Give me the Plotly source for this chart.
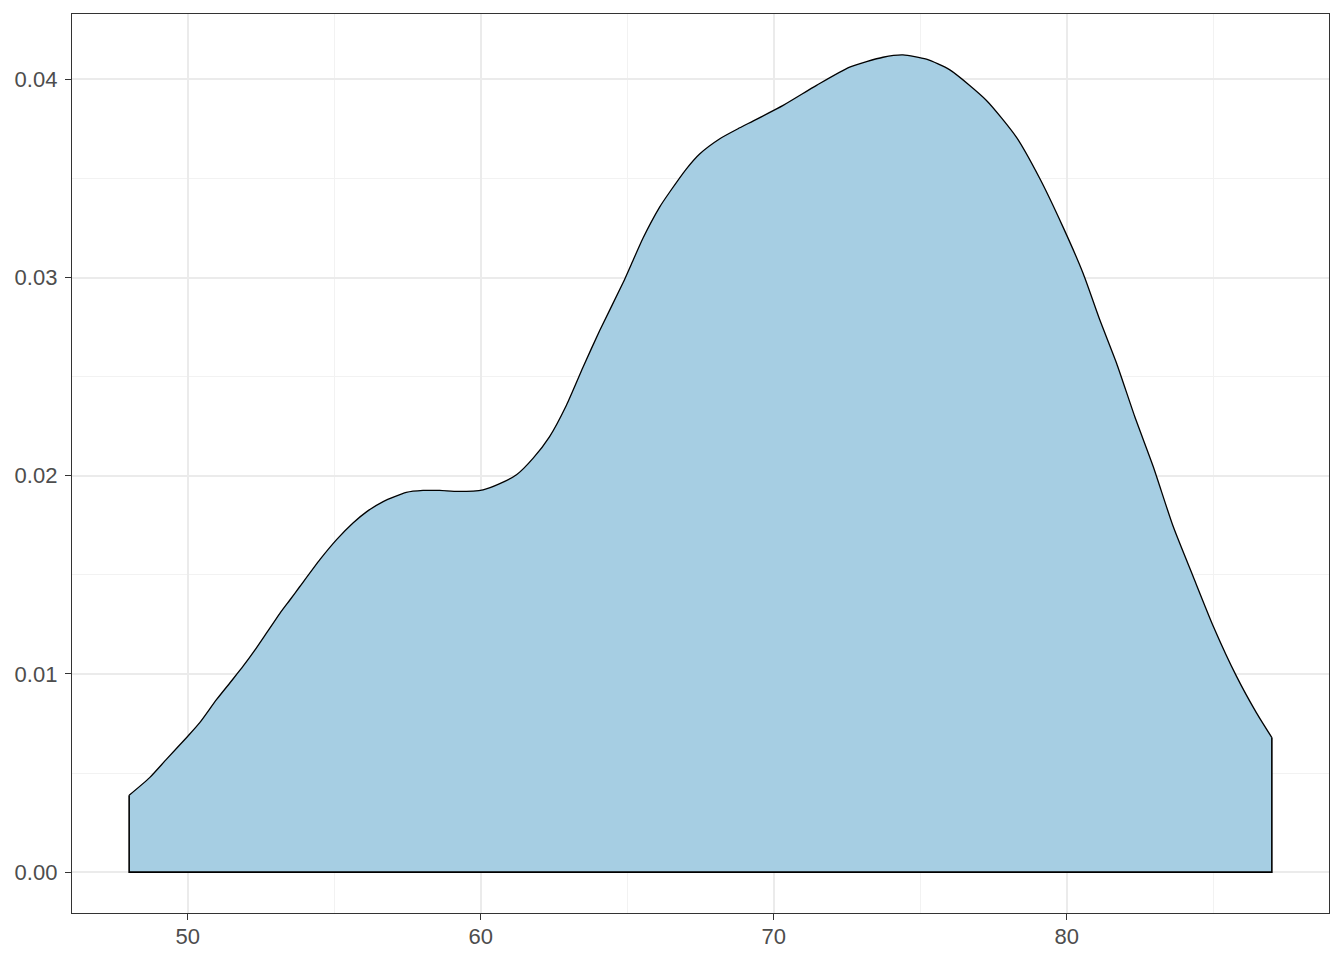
import plotly.graph_objects as go

# density curve (x, density)
x_vals = [48.0, 48.70, 49.27, 50.01, 50.41, 50.98, 51.45, 51.89, 52.29, 52.69, 53.14,
          53.48, 53.82, 54.51, 55.08, 55.64, 56.10, 56.67, 57.46, 58.03, 58.60, 59.23,
          60.08, 60.65, 61.22, 61.79, 62.35, 62.92, 63.49, 64.06, 64.86, 65.20,
          65.54, 66.11, 66.45, 67.02, 67.47, 68.16, 68.84, 69.29, 70.32, 71.46, 72.59,
          73.73, 74.41, 75.21, 76.01, 77.26, 78.28, 79.08, 79.87, 80.56, 81.13, 81.70,
          82.32, 82.95, 83.63, 84.31, 85.00, 85.79, 86.47, 87.0]
density = [0.00388, 0.00477, 0.00569, 0.00687, 0.00754, 0.00870, 0.00957, 0.01039, 0.01120,
           0.01207, 0.01305, 0.01372, 0.01440, 0.01577, 0.01678, 0.01762, 0.01818, 0.01870,
           0.01916, 0.01926, 0.01926, 0.01921, 0.01929, 0.01960, 0.02005, 0.02089, 0.02198,
           0.02355, 0.02548, 0.02733, 0.02975, 0.03088, 0.03200, 0.03357, 0.03432,
           0.03549, 0.03624, 0.03701, 0.03756, 0.03790, 0.03869, 0.03970, 0.04062, 0.04112,
           0.04124, 0.04102, 0.04048, 0.03894, 0.03709, 0.03500, 0.03256, 0.03021, 0.02786,
           0.02568, 0.02299, 0.02047, 0.01745, 0.01493, 0.01241, 0.00989, 0.00805, 0.00679]

x_ticks = [50, 60, 70, 80]
y_ticks = [0.00, 0.01, 0.02, 0.03, 0.04]
y_tick_labels = ["0.00", "0.01", "0.02", "0.03", "0.04"]

fig = go.Figure()
fig.add_trace(go.Scatter(
    x=x_vals, y=density, mode="lines", fill="tozeroy",
    fillcolor="#A6CEE3", line=dict(color="black", width=1.3, shape="spline", smoothing=0.6),
    hoverinfo="skip", showlegend=False))
# sides and baseline of the density polygon
fig.add_trace(go.Scatter(
    x=[x_vals[0], x_vals[0], x_vals[-1], x_vals[-1]],
    y=[density[0], 0, 0, density[-1]], mode="lines",
    line=dict(color="black", width=1.6), hoverinfo="skip", showlegend=False))

xr = [x_vals[0] - 0.05 * (x_vals[-1] - x_vals[0]), x_vals[-1] + 0.05 * (x_vals[-1] - x_vals[0])]
ymax = max(density)
yr = [-0.05 * ymax, ymax * 1.05]

axis_common = dict(
    showline=True, mirror=True, linecolor="#333333", linewidth=1.3,
    ticks="outside", ticklen=6, tickwidth=1.3, tickcolor="#333333",
    showgrid=True, gridcolor="#EBEBEB", gridwidth=1.5, zeroline=False,
    automargin=False,
    tickfont=dict(family="Liberation Sans, Arial", size=22, color="#4D4D4D"),
)

fig.update_xaxes(range=xr, tickvals=x_ticks, ticktext=[str(v) for v in x_ticks],
                 ticklabelstandoff=-3,
                 minor=dict(dtick=5, tick0=45, showgrid=True, gridcolor="#F2F2F2", gridwidth=0.8, ticks=""),
                 **axis_common)
fig.update_yaxes(range=yr, tickvals=y_ticks, ticktext=y_tick_labels,
                 ticklabelstandoff=3,
                 minor=dict(dtick=0.005, tick0=0, showgrid=True, gridcolor="#F2F2F2", gridwidth=0.8, ticks=""),
                 **axis_common)

fig.update_layout(
    width=1328, height=944,
    margin=dict(l=64, r=7, t=6, b=39),
    plot_bgcolor="white", paper_bgcolor="white",
    showlegend=False,
)

fig.write_html("out.html")
